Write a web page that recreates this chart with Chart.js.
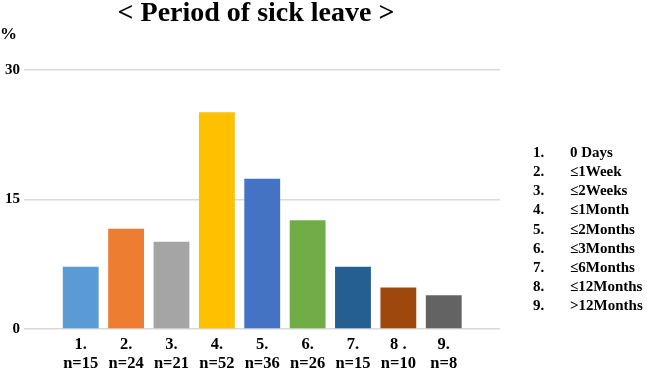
<!DOCTYPE html>
<html>
<head>
<meta charset="utf-8">
<script src="https://cdn.jsdelivr.net/npm/chart.js@4/dist/chart.umd.min.js"></script>
<style>
  html, body { margin: 0; padding: 0; background: #fff; }
  #wrap { width: 647px; height: 370px; position: relative; }
</style>
</head>
<body>
<div id="wrap"><canvas id="chart"></canvas></div>
<script>
// Period of sick leave, % of respondents
const categories = ['1.', '2.', '3.', '4.', '5.', '6.', '7.', '8 .', '9.'];
const counts = ['n=15', 'n=24', 'n=21', 'n=52', 'n=36', 'n=26', 'n=15', 'n=10', 'n=8'];
const percent = [7.2, 11.6, 10.1, 25.1, 17.4, 12.6, 7.2, 4.8, 3.9];
const periods = ['0 Days', '≤1Week', '≤2Weeks', '≤1Month', '≤2Months', '≤3Months', '≤6Months', '≤12Months', '>12Months'];
const legendNums = ['1.', '2.', '3.', '4.', '5.', '6.', '7.', '8.', '9.'];
const yTicks = [0, 15, 30];

const barColors = [
  '#5b9bd5', // light blue
  '#ed7d31', // orange
  '#a5a5a5', // grey
  '#ffc000', // gold
  '#4472c4', // blue
  '#70ad47', // green
  '#255e91', // dark blue
  '#9e480e', // brown
  '#636363', // dark grey
];

const SERIF = "'Liberation Serif', 'Times New Roman', serif";

// title, % unit and the right-hand key
const textPlugin = {
  id: 'extraText',
  afterDraw(chart) {
    const ctx = chart.ctx;
    ctx.save();
    ctx.fillStyle = '#000';
    ctx.textBaseline = 'alphabetic';

    ctx.font = 'bold 28px ' + SERIF;
    ctx.textAlign = 'center';
    ctx.fillText('< Period of sick leave >', 256, 21);

    ctx.font = 'bold 17px ' + SERIF;
    ctx.textAlign = 'left';
    ctx.fillText('%', 0, 39);

    ctx.font = 'bold 15px ' + SERIF;
    ctx.textBaseline = 'middle';
    periods.forEach((p, i) => {
      const y = 153 + i * 19.2;
      ctx.fillText(legendNums[i], 533, y);
      ctx.fillText(p, 570, y);
    });
    ctx.restore();
  }
};

new Chart(document.getElementById('chart'), {
  type: 'bar',
  data: {
    datasets: [{
      data: percent.map((v, i) => ({ x: i + 1, y: v })),
      backgroundColor: barColors,
      borderWidth: 0,
      categoryPercentage: 1,
      barPercentage: 0.79
    }]
  },
  options: {
    responsive: true,
    maintainAspectRatio: false,
    animation: false,
    layout: {
      padding: { top: 70, right: 147, bottom: 0, left: 0 }
    },
    plugins: {
      legend: { display: false },
      tooltip: { enabled: false }
    },
    scales: {
      x: {
        type: 'linear',
        offset: false,
        min: -0.25,
        max: 10.24,
        grid: { display: false, drawTicks: false },
        border: { display: false },
        afterBuildTicks: axis => {
          axis.ticks = categories.map((_, i) => ({ value: i + 1 }));
        },
        afterFit: axis => { axis.height = 41; },
        ticks: {
          autoSkip: false,
          maxRotation: 0,
          padding: 6,
          color: '#000',
          font: { family: SERIF, size: 16.5, weight: 'bold', lineHeight: '19px' },
          callback: v => [categories[v - 1], counts[v - 1]]
        }
      },
      y: {
        min: 0,
        max: 30,
        afterBuildTicks: axis => {
          axis.ticks = yTicks.map(v => ({ value: v }));
        },
        afterFit: axis => { axis.width = 24; },
        grid: { color: '#d9d9d9', lineWidth: 1.5, drawTicks: false },
        border: { display: false },
        ticks: {
          padding: 4,
          color: '#000',
          font: { family: SERIF, size: 15, weight: 'bold' }
        }
      }
    }
  },
  plugins: [textPlugin]
});
</script>
</body>
</html>
